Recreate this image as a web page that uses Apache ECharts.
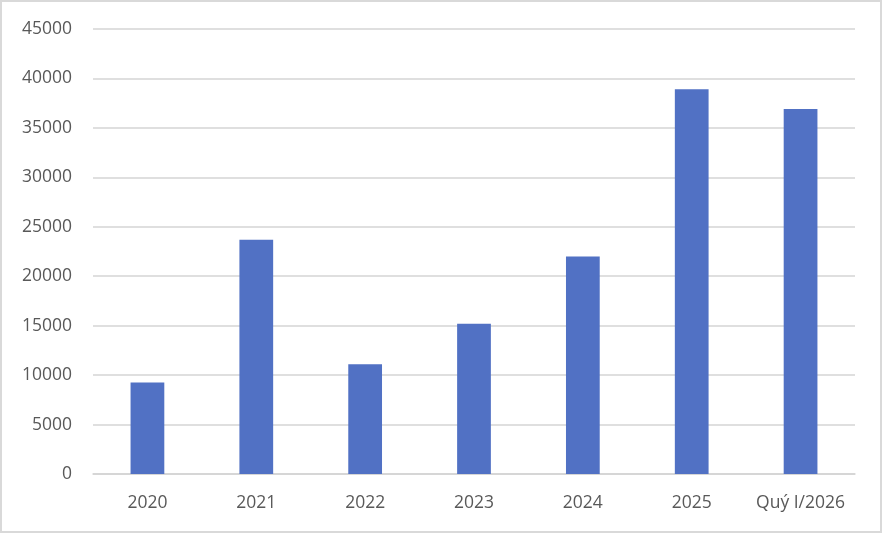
<!DOCTYPE html>
<html>
<head>
<meta charset="utf-8">
<script src="https://cdn.jsdelivr.net/npm/echarts@6/dist/echarts.min.js"></script>
<style>
html,body{margin:0;padding:0;background:#fff;}
#chart{width:883px;height:534px;}
</style>
</head>
<body>
<div id="chart"></div>
<script>
const categories = ["2020", "2021", "2022", "2023", "2024", "2025", "Quý I/2026"];
const values = [9250, 23700, 11100, 15200, 22000, 38900, 36900];
const yTicks = { min: 0, max: 45000, interval: 5000 };

const chart = echarts.init(document.getElementById('chart'), null, { renderer: 'canvas' });
chart.setOption({
  animation: false,
  backgroundColor: '#ffffff',
  graphic: [{
    type: 'rect',
    shape: { x: 1, y: 1, width: 880, height: 531 },
    style: { fill: 'none', stroke: '#d9d9d9', lineWidth: 2 },
    silent: true
  }],
  grid: { left: 93, right: 28, top: 29, bottom: 60, containLabel: false },
  xAxis: {
    type: 'category',
    data: categories,
    axisLine: { show: true, lineStyle: { color: '#d4d4d4', width: 1.5 } },
    axisTick: { show: false },
    axisLabel: { color: '#595959', fontSize: 17.5, fontFamily: 'Open Sans', margin: 20,
      interval: 0, hideOverlap: false }
  },
  yAxis: {
    type: 'value',
    min: yTicks.min, max: yTicks.max, interval: yTicks.interval,
    axisLine: { show: false },
    axisTick: { show: false },
    splitLine: { lineStyle: { color: '#d4d4d4', width: 1.5 } },
    axisLabel: { color: '#595959', fontSize: 17.5, fontFamily: 'Open Sans', margin: 21,
      formatter: function (v) { return String(v); } }
  },
  series: [{
    type: 'bar',
    data: values,
    barWidth: '31%',
    itemStyle: { color: '#5171c4' }
  }]
});
</script>
</body>
</html>
